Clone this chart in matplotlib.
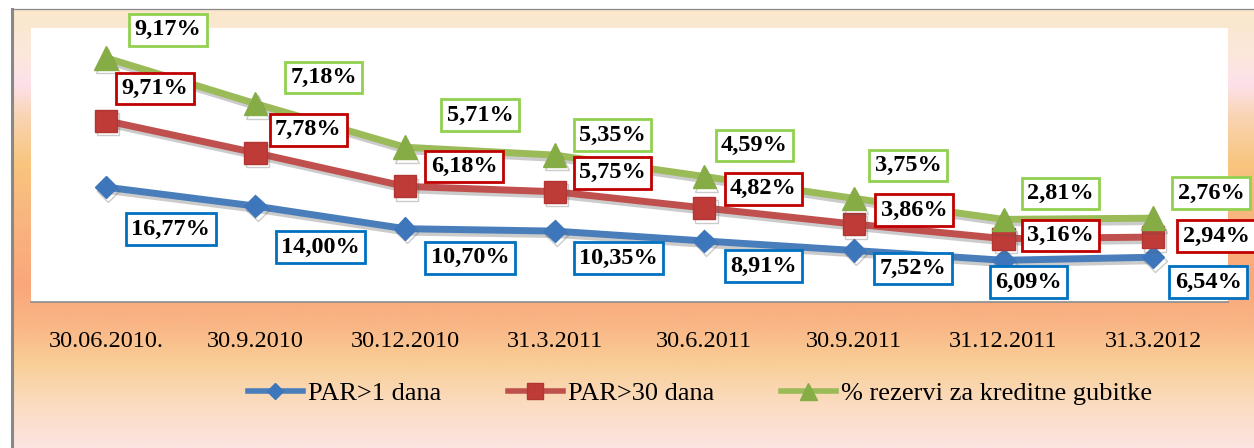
import numpy as np
import matplotlib
matplotlib.use('Agg')
from matplotlib import pyplot as plt
from matplotlib.colors import LinearSegmentedColormap
from matplotlib.lines import Line2D
import matplotlib.patheffects as pe

dates = ['30.06.2010.', '30.9.2010', '30.12.2010', '31.3.2011',
         '30.6.2011', '30.9.2011', '31.12.2011', '31.3.2012']
par1 = [16.77, 14.00, 10.70, 10.35, 8.91, 7.52, 6.09, 6.54]
par30 = [9.71, 7.78, 6.18, 5.75, 4.82, 3.86, 3.16, 2.94]
rezerve = [9.17, 7.18, 5.71, 5.35, 4.59, 3.75, 2.81, 2.76]
names = ['PAR>1 dana', 'PAR>30 dana', '% rezervi za kreditne gubitke']

# label offsets in pixels (dx, dy up), placed by hand like in the original
off_blue = [(65, -42), (65, -41), (65, -29), (64, -27), (59, -25), (59, -18), (25, -22), (55, -25)]
off_red = [(49, 32), (53, 23), (59, 20), (58, 19), (59, 19), (60, 14), (57, 3), (63, 1)]
off_green = [(62, 28), (68, 26), (75, 32), (58, 20), (50, 31), (54, 33), (57, 26), (58, 25)]

plt.rcParams['font.family'] = ['Liberation Serif', 'DejaVu Serif']

W, H = 1254, 448
fig = plt.figure(figsize=(W / 100, H / 100), dpi=100)
fig.patch.set_facecolor('white')

# gradient background of the chart frame
stops = [(10, '#FAE7CB'), (50, '#FCE8DA'), (85, '#FDE1EA'), (115, '#FAD5B5'),
         (165, '#F8C57E'), (215, '#F9B680'), (285, '#F9A77B'), (325, '#F9B585'),
         (365, '#F9CF97'), (405, '#FBDCC1'), (448, '#FCE4E0')]
y0 = stops[0][0]
cm = LinearSegmentedColormap.from_list(
    'bg', [((y - y0) / (H - y0), c) for y, c in stops])
bg = fig.add_axes([13 / W, 0, 1 - 13 / W, (H - 10) / H])
bg.imshow(np.linspace(0, 1, 256).reshape(-1, 1), aspect='auto', cmap=cm,
          extent=[0, 1, 0, 1], origin='upper')
bg.set_xlim(0, 1)
bg.set_ylim(0, 1)
bg.axis('off')
# frame lines
fig.add_artist(Line2D([12 / W, 12 / W], [0, (H - 9.5) / H], color='#888888', lw=2.2))
fig.add_artist(Line2D([12 / W, 1], [(H - 9.5) / H, (H - 9.5) / H], color='#888888', lw=0.9))

ax = fig.add_axes([31 / W, (H - 302) / H, (1228 - 31) / W, (302 - 28) / H])
ax.set_facecolor('white')
x = np.arange(len(dates))
c1 = np.array(par1)
c2 = c1 + np.array(par30)
c3 = c2 + np.array(rezerve)

shadow = [pe.SimpleLineShadow(offset=(1.5, -2.5), shadow_color='#555555', alpha=0.3), pe.Normal()]
styles = [dict(color='#4A7EBB', marker='D', ms=11.5, mfc='#3E76BC', mec='#3E76BC'),
          dict(color='#C0504D', marker='s', ms=16, mfc='#BE3B37', mec='#B23532'),
          dict(color='#9BBB59', marker='^', ms=17, mfc='#86AC45', mec='#86AC45')]
for cum, st in zip([c1, c2, c3], styles):
    ax.plot(x, cum, lw=5, path_effects=shadow, **st)

ax.set_xlim(-0.5, len(dates) - 0.5)
ax.set_ylim(0, 40)
ax.set_yticks([])
ax.set_xticks(x)
ax.set_xticklabels(dates, fontsize=17.5)
ax.tick_params(axis='x', length=0, pad=21)
for s in ['top', 'left', 'right']:
    ax.spines[s].set_visible(False)
ax.spines['bottom'].set_color('#8C8C8C')
ax.spines['bottom'].set_linewidth(1.2)


def fmt(v):
    return ('%.2f' % v).replace('.', ',') + '%'


for vals, cum, offs, ec in [(par1, c1, off_blue, '#0070C0'),
                            (par30, c2, off_red, '#C00000'),
                            (rezerve, c3, off_green, '#92D050')]:
    for i in range(len(vals)):
        ax.annotate(fmt(vals[i]), (x[i], cum[i]), xytext=offs[i],
                    textcoords='offset pixels', ha='center', va='center',
                    fontsize=17.5, fontweight='bold', annotation_clip=False,
                    bbox=dict(boxstyle='square,pad=0.22', fc='white', ec=ec, lw=2),
                    zorder=5)

# legend keys without the shadow
handles = []
for st in styles:
    h = dict(st)
    h['ms'] = st['ms'] * 0.72
    handles.append(Line2D([], [], lw=4, **h))
fig.legend(handles=handles, labels=names, loc='center',
           bbox_to_anchor=(700 / W, (H - 393) / H),
           ncol=3, frameon=False, fontsize=19, handlelength=2.1, handletextpad=0.2,
           columnspacing=2.5)

plt.savefig('out.png', dpi=100)
